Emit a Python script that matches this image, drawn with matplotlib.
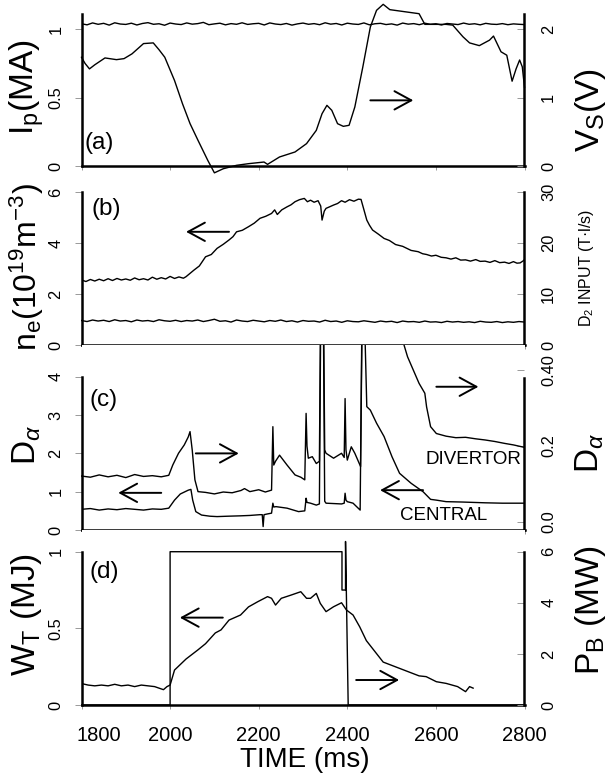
import matplotlib
matplotlib.use('Agg')
import matplotlib.pyplot as plt
from matplotlib.transforms import ScaledTranslation

plt.rcParams['font.family'] = ['Liberation Sans', 'DejaVu Sans']
plt.rcParams['mathtext.fontset'] = 'custom'
plt.rcParams['mathtext.rm'] = 'Liberation Sans'
plt.rcParams['mathtext.it'] = 'Liberation Sans:italic'
plt.rcParams['mathtext.bf'] = 'Liberation Sans:bold'

# ---------------- data (time in ms) ----------------
x_ticks = [1800, 2000, 2200, 2400, 2600, 2800]
x_ticklabels = ['1800', '2000', '2200', '2400', '2600', '2800']

# sampling grid (12.5 ms) for the two flat noisy signals
flat_t = [1800 + 12.5 * i for i in range(81)]

# (a) plasma current Ip (MA) -- left axis
ip_v = [1.040, 1.032, 1.046, 1.036, 1.043, 1.030, 1.047, 1.038, 1.035, 1.044,
        1.031, 1.042, 1.048, 1.036, 1.040, 1.029, 1.045, 1.038, 1.034, 1.046,
        1.037, 1.041, 1.050, 1.033, 1.039, 1.044, 1.032, 1.041, 1.036, 1.047,
        1.035, 1.040, 1.043, 1.031, 1.046, 1.038, 1.034, 1.042, 1.030, 1.039,
        1.045, 1.036, 1.041, 1.033, 1.047, 1.037, 1.042, 1.031, 1.044, 1.038,
        1.035, 1.046, 1.032, 1.040, 1.043, 1.034, 1.039, 1.030, 1.045, 1.037,
        1.041, 1.033, 1.044, 1.036, 1.040, 1.031, 1.042, 1.038, 1.034, 1.045,
        1.036, 1.040, 1.032, 1.043, 1.037, 1.035, 1.041, 1.033, 1.039, 1.036,
        1.034]

# (a) loop voltage Vs (V) -- right axis
vs = [(1800, 1.59), (1808, 1.50), (1818, 1.42), (1830, 1.48), (1853, 1.58), (1879, 1.555),
      (1896, 1.57), (1914, 1.64), (1940, 1.79), (1962, 1.80), (1975, 1.70), (1988, 1.59),
      (2010, 1.25), (2028, 0.91), (2045, 0.62), (2063, 0.375), (2085, 0.083), (2100, -0.10),
      (2120, -0.04), (2150, 0.01), (2177, 0.034), (2212, 0.058), (2220, 0.024), (2247, 0.132),
      (2282, 0.205), (2308, 0.327), (2330, 0.521), (2343, 0.765), (2354, 0.887), (2365, 0.814),
      (2378, 0.619), (2391, 0.580), (2404, 0.595), (2417, 0.863), (2435, 1.447), (2452, 2.032),
      (2466, 2.276), (2481, 2.364), (2496, 2.286), (2562, 2.227), (2575, 2.071), (2623, 2.071),
      (2638, 2.06), (2661, 1.89), (2676, 1.80), (2698, 1.76), (2721, 1.84), (2730, 1.90),
      (2747, 1.67), (2760, 1.62), (2772, 1.24), (2781, 1.42), (2789, 1.55), (2795, 1.45),
      (2800, 1.15)]

# (b) line density ne (1e19 m^-3) -- left axis
ne = [(1800, 2.55), (1810, 2.49), (1820, 2.57), (1830, 2.51), (1840, 2.58), (1850, 2.52),
      (1860, 2.60), (1870, 2.53), (1880, 2.61), (1890, 2.55), (1900, 2.59), (1910, 2.54),
      (1920, 2.63), (1930, 2.56), (1940, 2.60), (1950, 2.55), (1960, 2.66), (1970, 2.58),
      (1980, 2.64), (1990, 2.59), (2000, 2.69), (2010, 2.61), (2020, 2.67), (2030, 2.62),
      (2036, 2.68), (2054, 2.94), (2066, 3.10), (2080, 3.46), (2093, 3.55), (2106, 3.79),
      (2120, 3.95), (2133, 4.12), (2142, 4.25), (2150, 4.44), (2163, 4.50), (2177, 4.64),
      (2190, 4.78), (2203, 4.97), (2216, 5.05), (2229, 5.16), (2236, 5.30), (2242, 5.12),
      (2252, 5.30), (2264, 5.42), (2273, 5.50), (2282, 5.62), (2292, 5.70), (2303, 5.75),
      (2310, 5.62), (2317, 5.68), (2325, 5.60), (2334, 5.66), (2340, 5.45), (2343, 4.90),
      (2348, 5.25), (2352, 5.36), (2360, 5.42), (2369, 5.49), (2378, 5.55), (2387, 5.66),
      (2395, 5.60), (2405, 5.70), (2415, 5.64), (2425, 5.72), (2431, 5.71), (2436, 5.40),
      (2444, 4.90), (2450, 4.70), (2457, 4.51), (2470, 4.35), (2483, 4.18), (2495, 4.10),
      (2509, 3.94), (2525, 3.87), (2544, 3.71), (2560, 3.66), (2570, 3.58), (2579, 3.55),
      (2590, 3.49), (2600, 3.52), (2612, 3.44), (2623, 3.42), (2634, 3.37), (2645, 3.42),
      (2656, 3.33), (2667, 3.34), (2678, 3.29), (2690, 3.35), (2700, 3.28), (2711, 3.29),
      (2722, 3.24), (2733, 3.31), (2744, 3.23), (2755, 3.25), (2765, 3.20), (2775, 3.27),
      (2783, 3.21), (2790, 3.22), (2797, 3.30), (2800, 3.35)]

# (b) D2 gas input (T.l/s) -- right axis
d2_v = [4.8, 4.6, 4.9, 4.7, 4.85, 4.6, 4.95, 4.7, 4.8, 4.55,
        4.9, 4.7, 4.8, 4.6, 4.95, 4.75, 4.65, 4.85, 4.6, 4.8,
        4.7, 4.9, 4.6, 4.8, 5.05, 4.65, 4.75, 4.5, 4.9, 4.7,
        4.6, 4.85, 4.7, 4.55, 4.8, 4.65, 4.9, 4.6, 4.75, 4.5,
        4.8, 4.65, 4.7, 4.5, 4.85, 4.6, 4.7, 4.45, 4.75, 4.6,
        4.55, 4.75, 4.6, 4.45, 4.7, 4.55, 4.65, 4.4, 4.7, 4.55,
        4.6, 4.45, 4.7, 4.5, 4.55, 4.4, 4.65, 4.5, 4.6, 4.45,
        4.55, 4.4, 4.65, 4.5, 4.45, 4.6, 4.4, 4.55, 4.45, 4.6,
        4.5]

# (c) D-alpha divertor -- right axis
div = [(1800, 0.121), (1820, 0.118), (1840, 0.124), (1860, 0.119), (1880, 0.123), (1900, 0.117),
       (1920, 0.125), (1940, 0.120), (1960, 0.122), (1980, 0.119), (1997, 0.123), (2006, 0.150),
       (2019, 0.181), (2032, 0.203), (2041, 0.224), (2045, 0.238), (2050, 0.189), (2056, 0.111),
       (2063, 0.080), (2080, 0.078), (2100, 0.074), (2120, 0.079), (2140, 0.077), (2160, 0.083),
       (2168, 0.088), (2180, 0.080), (2200, 0.085), (2215, 0.079), (2229, 0.084), (2232, 0.251),
       (2234, 0.150), (2238, 0.160), (2247, 0.176), (2264, 0.150), (2282, 0.124), (2295, 0.118),
       (2304, 0.111), (2307, 0.286), (2309, 0.200), (2312, 0.168), (2321, 0.172), (2330, 0.154),
       (2337, 0.160), (2340, 0.60), (2346, 0.60), (2349, 0.190), (2352, 0.181), (2369, 0.168),
       (2387, 0.181), (2393, 0.170), (2395, 0.325), (2397, 0.190), (2400, 0.163), (2409, 0.198),
       (2417, 0.181), (2430, 0.146), (2434, 0.60), (2440, 0.60), (2480, 0.60), (2520, 0.60),
       (2527, 0.47), (2536, 0.435), (2549, 0.40), (2562, 0.365), (2575, 0.339), (2579, 0.303),
       (2588, 0.251), (2601, 0.233), (2623, 0.226), (2645, 0.222), (2667, 0.223), (2690, 0.219),
       (2711, 0.216), (2733, 0.212), (2755, 0.207), (2775, 0.203), (2798, 0.197)]

# (c) D-alpha central -- left axis
cen = [(1800, 0.54), (1820, 0.56), (1840, 0.52), (1860, 0.55), (1880, 0.53), (1900, 0.56),
       (1920, 0.54), (1940, 0.52), (1960, 0.55), (1980, 0.54), (1997, 0.57), (2010, 0.78),
       (2023, 0.94), (2041, 1.04), (2047, 1.06), (2051, 0.78), (2058, 0.48), (2071, 0.39),
       (2090, 0.36), (2106, 0.35), (2130, 0.36), (2159, 0.37), (2180, 0.38), (2203, 0.40),
       (2208, 0.40), (2210, 0.09), (2212, 0.40), (2220, 0.42), (2229, 0.44), (2232, 0.70),
       (2234, 0.60), (2239, 0.61), (2264, 0.57), (2290, 0.48), (2304, 0.50), (2307, 0.83),
       (2309, 0.72), (2317, 0.70), (2330, 0.65), (2337, 0.68), (2340, 5.5), (2346, 5.5),
       (2349, 0.75), (2352, 0.70), (2370, 0.69), (2387, 0.68), (2393, 0.70), (2395, 0.96),
       (2397, 0.78), (2400, 0.74), (2413, 0.70), (2429, 0.52), (2433, 5.5), (2439, 5.5),
       (2444, 3.22), (2452, 3.13), (2466, 2.79), (2483, 2.44), (2501, 1.91), (2518, 1.48),
       (2544, 1.22), (2571, 1.00), (2588, 0.80), (2601, 0.78), (2623, 0.74), (2660, 0.73),
       (2711, 0.71), (2750, 0.70), (2798, 0.70)]

# (d) stored energy WT (MJ) -- left axis
wt = [(1800, 0.14), (1815, 0.13), (1830, 0.125), (1845, 0.13), (1860, 0.125), (1875, 0.135),
      (1890, 0.125), (1905, 0.13), (1920, 0.12), (1935, 0.13), (1950, 0.125), (1965, 0.12),
      (1975, 0.11), (1985, 0.10), (1993, 0.12), (2000, 0.13), (2010, 0.228), (2036, 0.30),
      (2063, 0.36), (2080, 0.40), (2102, 0.47), (2115, 0.49), (2133, 0.554), (2159, 0.587),
      (2177, 0.64), (2198, 0.674), (2220, 0.707), (2229, 0.696), (2238, 0.652), (2251, 0.696),
      (2273, 0.717), (2295, 0.739), (2308, 0.696), (2317, 0.696), (2330, 0.728), (2339, 0.663),
      (2352, 0.609), (2369, 0.641), (2387, 0.667), (2398, 0.62), (2413, 0.587), (2428, 0.51),
      (2443, 0.42), (2462, 0.35), (2481, 0.28), (2526, 0.23), (2562, 0.19), (2578, 0.185),
      (2601, 0.152), (2623, 0.141), (2649, 0.12), (2667, 0.087), (2676, 0.12), (2684, 0.11)]

# (d) beam power PB (MW) -- right axis
pb_t = [1800, 2000, 2000, 2388, 2388, 2396, 2396, 2402, 2800]
pb_v = [0, 0, 6.0, 6.0, 4.5, 4.5, 6.4, 0, 0]

# ---------------- figure ----------------
W, H = 608, 776
fig = plt.figure(figsize=(W / 100, H / 100), dpi=100)
XL, XR = 81.5, 524.5


def panel(top, bottom):
    return fig.add_axes([XL / W, 1 - bottom / H, (XR - XL) / W, (bottom - top) / H])


def style(ax, axr, lylim, rylim, lb, rb, lt, ll, rt, rl, bottom=False):
    ax.set_xlim(1800, 2800)
    ax.set_ylim(*lylim)
    axr.set_ylim(*rylim)
    for a in (ax, axr):
        a.spines['top'].set_visible(False)
        for s in ('left', 'right', 'bottom'):
            a.spines[s].set_linewidth(1.8)
    ax.spines['right'].set_visible(False)
    axr.spines['left'].set_visible(False)
    axr.spines['bottom'].set_visible(False)
    ax.spines['left'].set_bounds(*lb)
    axr.spines['right'].set_bounds(*rb)
    ax.set_yticks(lt)
    ax.set_yticklabels(ll, rotation=90, va='center')
    axr.set_yticks(rt)
    axr.set_yticklabels(rl, rotation=90, va='center')
    ax.tick_params(axis='y', direction='out', length=5, width=0.7, color='#999999',
                   labelsize=11.8, pad=8)
    axr.tick_params(axis='y', direction='in', length=5, width=0.7, color='#999999',
                    labelsize=11.8, pad=12)
    ax.set_xticks(x_ticks)
    ax.set_xticklabels(x_ticklabels)
    ax.tick_params(axis='x', direction='out', length=3, width=0.7, color='#999999',
                   labelsize=14.5, pad=12, labelbottom=bottom)


def arrow(ax, x0, x1, y):
    ax.annotate('', xy=(x1, y), xytext=(x0, y),
                arrowprops=dict(arrowstyle='->,head_length=0.55,head_width=0.3',
                                lw=1.4, color='k', shrinkA=0, shrinkB=0,
                                mutation_scale=22))


LW = 1.0

# (a)
axa = panel(2, 166)
axa_r = axa.twinx()
style(axa, axa_r, (0, 1.199), (0, 2.398), (0, 1.11), (0, 2.22),
      [0, 0.5, 1], ['0', '0.5', '1'], [0, 1, 2], ['0', '1', '2'])
axa.plot(flat_t, ip_v, color='k', lw=LW)
t, v = zip(*vs)
axa_r.plot(t, v, color='k', lw=LW, clip_on=False)
arrow(axa, 2452, 2549, 0.48)
axa.text(1840, 0.17, '(a)', fontsize=17.5, ha='center', va='center')

# (b)
axb = panel(190, 345)
axb_r = axb.twinx()
style(axb, axb_r, (0, 6.08), (0, 30.4), (0, 6), (0, 30),
      [0, 2, 4, 6], ['0', '2', '4', '6'], [0, 10, 20, 30], ['0', '10', '20', '30'])
t, v = zip(*ne)
axb.plot(t, v, color='k', lw=LW)
axb_r.plot(flat_t, d2_v, color='k', lw=LW)
arrow(axb, 2133, 2036, 4.44)
axb.text(1856, 5.35, '(b)', fontsize=17.5, ha='center', va='center')

# (c)
axc = panel(345, 530)
axc_r = axc.twinx()
style(axc, axc_r, (0, 4.83), (-0.021, 0.466), (0, 4), (-0.021, 0.379),
      [0, 1, 2, 3, 4], ['0', '1', '2', '3', '4'], [0, 0.2, 0.4], ['0.0', '0.2', '0.40'])
t, v = zip(*cen)
axc.plot(t, v, color='k', lw=LW)
t, v = zip(*div)
axc_r.plot(t, v, color='k', lw=LW)
arrow(axc, 2601, 2696, 3.74)
arrow(axc, 2058, 2155, 2.0)
arrow(axc, 1980, 1883, 0.97)
arrow(axc, 2571, 2474, 1.04)
axc.text(2792, 1.83, 'DIVERTOR', fontsize=13.5, ha='right', va='center')
axc.text(2717, 0.37, 'CENTRAL', fontsize=13.5, ha='right', va='center')
axc.text(1850, 3.4, '(c)', fontsize=17.5, ha='center', va='center')

# (d)
axd = panel(530, 705)
axd_r = axd.twinx()
style(axd, axd_r, (0, 1.1416), (0, 6.85), (0, 1), (0, 6),
      [0, 0.5, 1], ['0', '0.5', '1'], [0, 2, 4, 6], ['0', '2', '4', '6'], bottom=True)
t, v = zip(*wt)
axd.plot(t, v, color='k', lw=LW)
axd_r.plot(pb_t, pb_v, color='k', lw=LW)
arrow(axd, 2119, 2022, 0.57)
arrow(axd, 2420, 2517, 0.163)
axd.text(1852, 0.865, '(d)', fontsize=17.5, ha='center', va='center')

# shift first x tick label to the right like the original
lab0 = axd.get_xticklabels()[0]
lab0.set_transform(lab0.get_transform() + ScaledTranslation(0.17, 0, fig.dpi_scale_trans))


def ftext(x, y, s, size, **kw):
    fig.text(x / W, 1 - y / H, s, fontsize=size, rotation=90, ha='center', va='center', **kw)


ftext(27, 87, r'$\mathregular{I_p(MA)}$', 24)
ftext(590, 110, r'$\mathregular{V_S(V)}$', 24)
ftext(27, 267, r'$\mathregular{n_e(10^{19}m^{-3})}$', 23)
ftext(586, 268, r'$\mathregular{D_2}$ INPUT (T·l/s)', 11.5)
ftext(27, 445, r'$\mathregular{D}_{\alpha}$', 24)
ftext(590, 453, r'$\mathregular{D}_{\alpha}$', 24)
ftext(27, 615, r'$\mathregular{W_T\ (MJ)}$', 24)
ftext(590, 610, r'$\mathregular{P_B\ (MW)}$', 24)
fig.text(305 / W, 1 - 760 / H, 'TIME (ms)', fontsize=20, ha='center', va='center')

fig.savefig('out.png', dpi=100)
